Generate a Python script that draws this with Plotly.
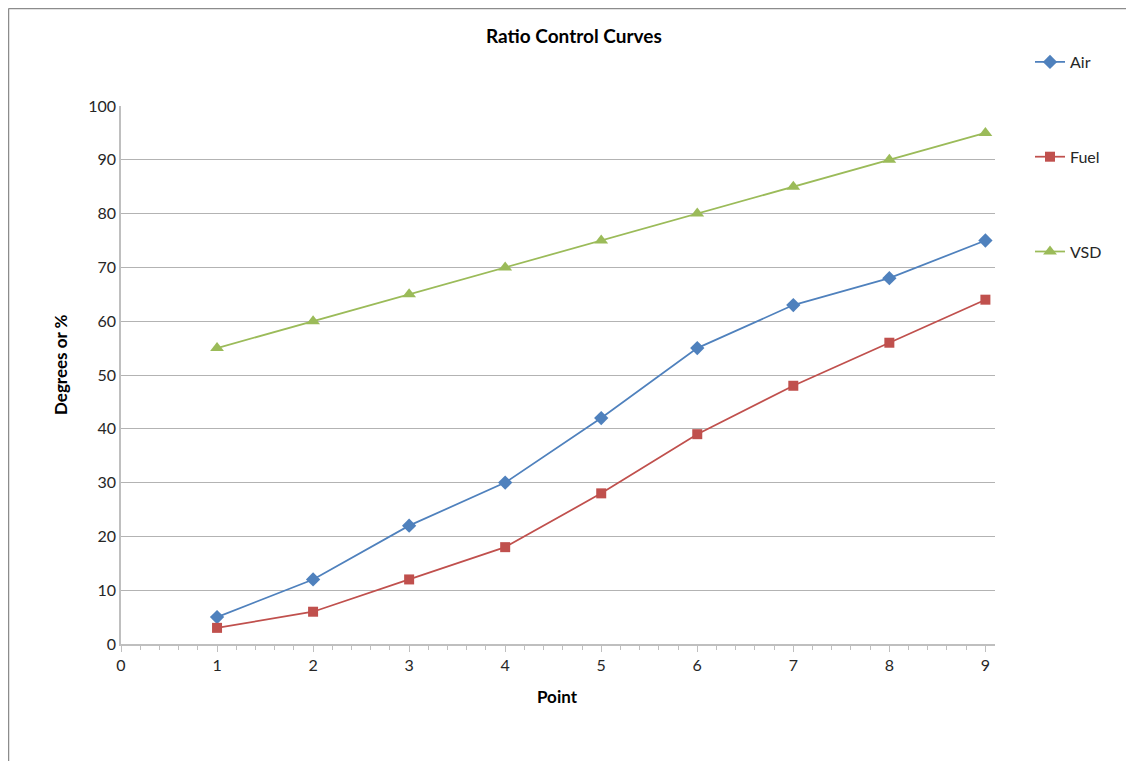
import plotly.graph_objects as go

points = [1, 2, 3, 4, 5, 6, 7, 8, 9]
air = [5, 12, 22, 30, 42, 55, 63, 68, 75]
fuel = [3, 6, 12, 18, 28, 39, 48, 56, 64]
vsd = [55, 60, 65, 70, 75, 80, 85, 90, 95]

FONT = "Lato, 'Open Sans', sans-serif"
series = [
    ("Air", air, "#4F81BD", "diamond", 11),
    ("Fuel", fuel, "#C0504D", "square", 10),
    ("VSD", vsd, "#9BBB59", "triangle-up", 12),
]

fig = go.Figure()
for name, vals, col, sym, sz in series:
    fig.add_trace(go.Scatter(
        x=points, y=vals, name=name, mode="lines+markers",
        line=dict(color=col, width=1.75),
        marker=dict(symbol=sym, size=sz, color=col),
        legendgroup=name,
    ))

OFF = 8  # page offset of the figure
W, H = 1126, 753
PL, PR, PT, PB = 121, 995, 106, 644  # plot area in page pixels
L, T = PL - OFF, PT - OFF
R = W - (PR - OFF)
B = H - (PB - OFF)
pw, ph = PR - PL, PB - PT

def px_x(x):
    return (x - PL) / pw

def px_y(y):
    return (PB - y) / ph

fig.update_layout(
    width=W, height=H,
    margin=dict(l=L, r=R, t=T, b=B, autoexpand=False),
    paper_bgcolor="white", plot_bgcolor="white",
    font=dict(family=FONT, size=15, color="#262626"),
    showlegend=True,
    legend=dict(
        x=px_x(1030), y=px_y(45), xanchor="left", yanchor="top",
        tracegroupgap=71, font=dict(size=16, color="#262626"),
        bgcolor="rgba(0,0,0,0)",
    ),
    xaxis=dict(
        range=[0, 9.1], tickmode="array", tickvals=list(range(10)),
        ticktext=[str(i) for i in range(10)],
        showgrid=False, zeroline=False,
        showline=True, linecolor="#BFBFBF", linewidth=1.5,
        ticks="outside", ticklen=6, tickcolor="#BFBFBF", tickwidth=1,
        minor=dict(dtick=0.2, ticks="outside", ticklen=4, tickcolor="#BFBFBF", showgrid=False),
        tickfont=dict(size=16, color="#262626"),
    ),
    yaxis=dict(
        range=[0, 100], dtick=10,
        showgrid=True, gridcolor="#B3B3B3", gridwidth=1,
        zeroline=False,
        showline=True, linecolor="#BFBFBF", linewidth=1.5,
        ticks="", tickfont=dict(size=16, color="#262626"),
    ),
    annotations=[
        dict(text="<b>Ratio Control Curves</b>", xref="paper", yref="paper",
             x=px_x(574), y=px_y(36), showarrow=False, font=dict(size=19, color="black"),
             xanchor="center", yanchor="middle"),
        dict(text="<b>Point</b>", xref="paper", yref="paper",
             x=px_x(557), y=px_y(696), showarrow=False, font=dict(size=17, color="black"),
             xanchor="center", yanchor="middle"),
        dict(text="<b>Degrees or %</b>", xref="paper", yref="paper",
             x=px_x(60), y=px_y(365), showarrow=False, font=dict(size=17, color="black"),
             xanchor="center", yanchor="middle", textangle=-90),
    ],
    shapes=[
        dict(type="line", xref="paper", yref="paper",
             x0=px_x(8.5), x1=px_x(1200), y0=px_y(8.5), y1=px_y(8.5),
             line=dict(color="#8C8C8C", width=1.5), layer="below"),
        dict(type="line", xref="paper", yref="paper",
             x0=px_x(8.5), x1=px_x(8.5), y0=px_y(8.5), y1=px_y(800),
             line=dict(color="#8C8C8C", width=1.5), layer="below"),
    ],
)

fig.write_html("out.html")
